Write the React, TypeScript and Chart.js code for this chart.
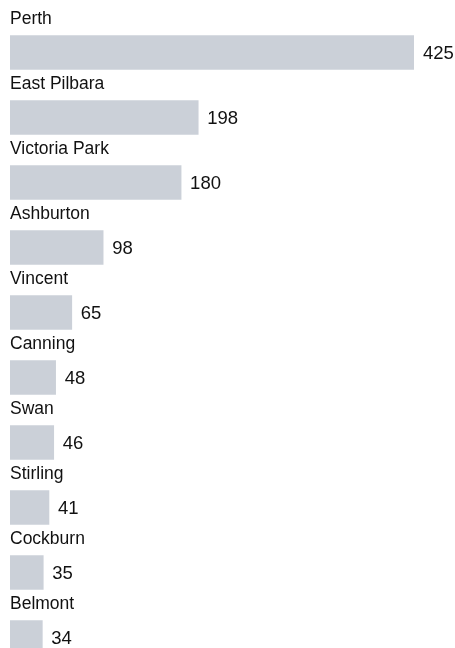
import React, { useEffect, useRef } from "react";
import { Chart, registerables } from "chart.js";

Chart.register(...registerables);

const categories = [
  "Perth",
  "East Pilbara",
  "Victoria Park",
  "Ashburton",
  "Vincent",
  "Canning",
  "Swan",
  "Stirling",
  "Cockburn",
  "Belmont",
];
const values = [425, 198, 180, 98, 65, 48, 46, 41, 35, 34];

const BAR_COLOR = "#cbd0d8";
const TEXT_COLOR = "#111111";
const FONT = "Liberation Sans, Arial, Helvetica, sans-serif";

const labelPlugin = {
  id: "rowLabels",
  afterDatasetsDraw(chart: any) {
    const ctx = chart.ctx;
    const meta = chart.getDatasetMeta(0);
    ctx.save();
    meta.data.forEach((bar: any, i: number) => {
      const props = bar.getProps(["x", "y", "base", "height"], true);
      const top = props.y - props.height / 2;
      ctx.fillStyle = TEXT_COLOR;
      ctx.font = `17.5px ${FONT}`;
      ctx.textAlign = "left";
      ctx.textBaseline = "alphabetic";
      ctx.fillText(chart.data.labels[i], props.base, top - 11.5);
      ctx.font = `18.5px ${FONT}`;
      ctx.textBaseline = "middle";
      ctx.fillText(String(chart.data.datasets[0].data[i]), props.x + 9, props.y + 1);
    });
    ctx.restore();
  },
};

export default function App() {
  const ref = useRef<HTMLCanvasElement>(null);
  useEffect(() => {
    document.body.style.margin = "0";
    const chart = new Chart(ref.current!, {
      type: "bar",
      data: {
        labels: categories,
        datasets: [
          {
            data: values,
            backgroundColor: BAR_COLOR,
            borderWidth: 0,
            barThickness: 34,
          },
        ],
      },
      options: {
        indexAxis: "y",
        animation: false,
        responsive: false,
        maintainAspectRatio: false,
        layout: { padding: { left: 10, right: 41, top: 20, bottom: 0 } },
        plugins: {
          legend: { display: false },
          tooltip: { enabled: false },
        },
        scales: {
          x: { display: false, min: 0, max: 425 },
          y: { display: false, grid: { display: false } },
        },
      },
      plugins: [labelPlugin],
    });
    return () => chart.destroy();
  }, []);
  return (
    <div style={{ width: 455, height: 648, overflow: "hidden", position: "relative" }}>
      <canvas ref={ref} width={455} height={670} style={{ display: "block" }} />
    </div>
  );
}
